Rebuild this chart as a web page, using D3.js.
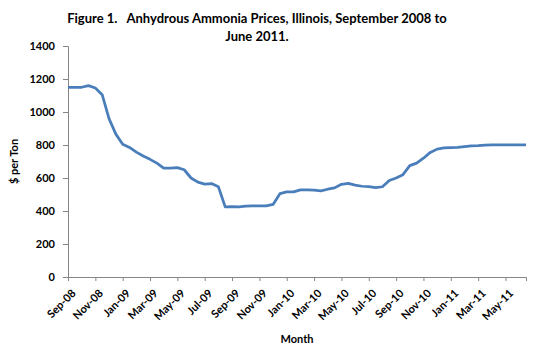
<!DOCTYPE html>
<html>
<head>
<meta charset="utf-8">
<script src="https://cdn.jsdelivr.net/npm/d3@7"></script>
<style>
  body { margin: 0; background: #fff; }
  text { font-family: Lato, "Open Sans", sans-serif; font-weight: bold; fill: #000; }
</style>
</head>
<body>
<div id="canvas"></div>
<script>
// semi-monthly prices, Sep 2008 .. Jun 2011 ($ per ton)
const prices = [
  1150, 1150, 1150, 1160, 1145, 1105, 960, 866, 805, 785,
  757, 733, 713, 690, 660, 660, 663, 650, 600, 575,
  563, 566, 547, 425, 427, 425, 430, 431, 431, 431,
  440, 505, 516, 516, 528, 528, 527, 522, 532, 540,
  562, 567, 557, 550, 548, 542, 547, 585, 600, 620,
  675, 690, 720, 755, 775, 782, 784, 786, 790, 794,
  796, 799, 801, 801, 801, 801, 801, 801
];
const tickLabels = ["Sep-08", "Nov-08", "Jan-09", "Mar-09", "May-09", "Jul-09", "Sep-09", "Nov-09",
  "Jan-10", "Mar-10", "May-10", "Jul-10", "Sep-10", "Nov-10", "Jan-11", "Mar-11", "May-11"];
const tickEvery = 4; // label every 2 months = 4 points
const yTicks = [0, 200, 400, 600, 800, 1000, 1200, 1400];

const width = 550;
const height = 349;
const margin = { top: 46, left: 68, bottom: 72, right: 24 };
const iwidth = width - margin.left - margin.right;
const iheight = height - margin.top - margin.bottom;

const svg = d3.select("#canvas").append("svg")
  .attr("width", width)
  .attr("height", height);

svg.append("text")
  .attr("x", 257).attr("y", 23)
  .attr("text-anchor", "middle")
  .attr("xml:space", "preserve")
  .style("font-size", "13px")
  .text("Figure 1.   Anhydrous Ammonia Prices, Illinois, September 2008 to");
svg.append("text")
  .attr("x", 257).attr("y", 41)
  .attr("text-anchor", "middle")
  .style("font-size", "13px")
  .text("June 2011.");

const g = svg.append("g").attr("transform", `translate(${margin.left},${margin.top})`);

const x = d3.scaleLinear().domain([0, prices.length - 1]).range([0, iwidth]);
const y = d3.scaleLinear().domain([0, 1400]).range([iheight, 0]);

// y axis
const yAxis = g.append("g")
  .call(d3.axisLeft(y).tickValues(yTicks).tickSize(5).tickPadding(8).tickFormat(d3.format("d")));
yAxis.selectAll("text").style("font-size", "11px");

// x axis
const tickIdx = tickLabels.map((d, i) => i * tickEvery);
const xAxis = g.append("g")
  .attr("transform", `translate(0,${iheight})`)
  .call(d3.axisBottom(x).tickValues(tickIdx).tickSize(4).tickFormat((d, i) => tickLabels[i]));
xAxis.selectAll("text")
  .style("font-size", "11px")
  .attr("text-anchor", "end")
  .attr("dy", null)
  .attr("transform", "translate(3,12) rotate(-45)");

svg.selectAll(".domain, .tick line").attr("stroke", "#868686");

// axis titles
svg.append("text")
  .attr("transform", `translate(18,${margin.top + iheight / 2}) rotate(-90)`)
  .attr("text-anchor", "middle")
  .style("font-size", "11px")
  .text("$ per Ton");
svg.append("text")
  .attr("x", 297).attr("y", 343)
  .attr("text-anchor", "middle")
  .style("font-size", "11px")
  .text("Month");

const line = d3.line()
  .x((d, i) => x(i))
  .y(d => y(d));

g.append("path")
  .datum(prices)
  .attr("fill", "none")
  .attr("stroke", "#4a7ebb")
  .attr("stroke-width", 2.75)
  .attr("stroke-linejoin", "round")
  .attr("d", line);
</script>
</body>
</html>
